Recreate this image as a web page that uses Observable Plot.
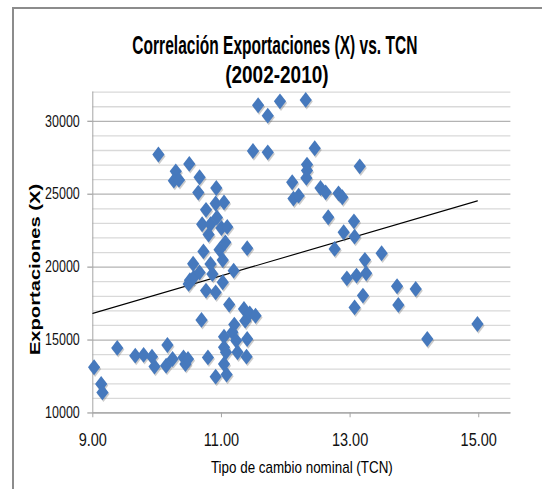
<!DOCTYPE html>
<html><head><meta charset="utf-8">
<script src="https://cdn.jsdelivr.net/npm/d3@7"></script>
<script src="https://cdn.jsdelivr.net/npm/@observablehq/plot@0.6"></script>
<style>
html,body{margin:0;padding:0;background:#fff;}
#wrap{position:relative;width:542px;height:489px;overflow:hidden;background:#fff;}
#border{position:absolute;left:12px;top:7px;width:700px;height:700px;border-left:2px solid #8c8c8c;border-top:2px solid #8c8c8c;}
#chart{position:absolute;left:0;top:0;}
</style></head><body>
<div id="wrap"><div id="border"></div><div id="chart"></div></div>
<script>
// ---- data ----
const titleLine1 = "Correlación Exportaciones (X) vs. TCN";
const titleLine2 = "(2002-2010)";
const xTitle = "Tipo de cambio nominal (TCN)";
const yTitle = "Exportaciones (X)";

const tcn = [
 9.02, 9.13, 9.15, 9.38, 9.66, 9.79, 9.92, 9.96, 10.16, 10.14,
 10.24, 10.41, 10.44, 10.48, 10.79, 10.91, 11.08, 11.04, 11.04, 11.07,
 11.04, 11.17, 11.23, 11.25, 11.40, 11.39, 11.20, 10.69, 11.37, 11.35,
 11.44, 11.53, 11.12, 10.49, 10.51, 10.57, 10.66, 10.56, 10.72, 10.83,
 10.86, 10.76, 10.91, 10.97, 11.02, 11.02, 11.19, 11.40, 11.06, 10.02,
 10.29, 10.26, 10.34, 10.50, 10.66, 10.64, 10.92, 10.91, 11.04, 10.76,
 10.70, 10.83, 10.93, 10.80, 11.00, 11.09, 11.49, 11.72, 11.57, 11.72,
 11.91, 12.31, 12.10, 12.12, 12.20, 12.33, 12.33, 12.32, 12.45, 13.15,
 12.54, 12.62, 12.82, 12.88, 12.66, 13.06, 12.90, 13.07, 12.76, 13.23,
 13.49, 12.95, 13.10, 13.25, 13.73, 14.02, 13.20, 13.07, 13.75, 14.98,
 14.20
];
const exportaciones = [
 13130, 11990, 11410, 14460, 13930, 13980, 13860, 13180, 14660, 13240,
 13700, 13810, 13360, 13700, 13810, 12490, 12630, 13360, 14500, 14160,
 15230, 15530, 14960, 14160, 15070, 13860, 16060, 16380, 16330, 17130,
 16830, 16670, 17430, 18850, 19100, 19300, 19640, 20230, 21080, 20220,
 19530, 18390, 18270, 21200, 20490, 18960, 19760, 21300, 21700, 27720,
 26570, 25930, 25980, 27080, 26160, 25110, 25430, 24360, 24440, 23930,
 22940, 22940, 23400, 22230, 22680, 22760, 27960, 27870, 31100, 30390,
 31370, 31470, 25820, 24700, 24900, 27030, 26620, 26120, 28150, 26910,
 25430, 25130, 25060, 24790, 23420, 23140, 22390, 22090, 21250, 20500,
 20950, 19230, 19420, 19580, 18690, 18500, 18050, 17240, 17410, 16100,
 15070
];
const trendX = [9.0, 14.98];
const trendY = [16830, 24540];

const xTicks = [9, 11, 13, 15];
const yTicks = [10000, 15000, 20000, 25000, 30000];
const yMinorGrid = [11000,12000,13000,14000,16000,17000,18000,19000,21000,22000,23000,24000,26000,27000,28000,29000,31000,32000];

// ---- build ----
const points = tcn.map((x, i) => ({x, y: exportaciones[i]}));
const trend = trendX.map((x, i) => ({x, y: trendY[i]}));

const S = 1.3;           // vertical stretch of the original picture
const W = 542, H = 489 / S;
const frameTop = 91.5 / S, frameBottom = 412.3 / S;

const chart = Plot.plot({
  width: W, height: H,
  marginLeft: 92.3, marginRight: 31.6, marginTop: frameTop, marginBottom: H - frameBottom,
  style: {background: "transparent", fontFamily: "'Liberation Sans', Arial, sans-serif", color: "#000", overflow: "visible"},
  x: {domain: [9, 15.5]},
  y: {domain: [10000, 32000]},
  marks: [
    Plot.gridY(yMinorGrid, {stroke: "#d9d9d9", strokeOpacity: 1}),
    Plot.gridY(yTicks, {stroke: "#b3b3b3", strokeOpacity: 1}),
    Plot.ruleX([9], {stroke: "#a6a6a6"}),
    Plot.ruleY([10000], {stroke: "#a6a6a6"}),
    Plot.axisY(yTicks, {tickSize: 5, tickPadding: 8, fontSize: 12.5, tickFormat: d => String(d), stroke: "#a6a6a6", fill: "#111", label: null}),
    Plot.axisX(xTicks, {tickSize: 5 / S, tickPadding: 10.9, fontSize: 14.5, tickFormat: d => d.toFixed(2), stroke: "#a6a6a6", fill: "#111", label: null}),
    Plot.line(trend, {x: "x", y: "y", stroke: "#000", strokeWidth: 0.9}),
    Plot.dot(points, {x: "x", y: "y", symbol: "diamond2", r: 5.5, fill: "#555", fillOpacity: 0.3, dx: 1, dy: 1.3}),
    Plot.dot(points, {x: "x", y: "y", symbol: "diamond2", r: 5.5, fill: "#4679bd"}),
    Plot.text([titleLine1], {text: d => d, frameAnchor: "top", dx: -27, dy: -35.8, lineAnchor: "middle", textAnchor: "middle", fontSize: 20, fontWeight: "bold", fill: "#000"}),
    Plot.text([titleLine2], {text: d => d, frameAnchor: "top", dx: -25, dy: -12.9, lineAnchor: "middle", textAnchor: "middle", fontSize: 19, fontWeight: "bold", fill: "#000"}),
    Plot.text([xTitle], {text: d => d, frameAnchor: "bottom", dy: 42, lineAnchor: "middle", textAnchor: "middle", fontSize: 13.4, fill: "#000"}),
    Plot.text([yTitle], {text: d => d, frameAnchor: "left", rotate: -90, dx: -57.3, dy: 13, lineAnchor: "middle", textAnchor: "middle", fontSize: 15.5, fontWeight: "bold", fill: "#000"})
  ]
});
// condense the title like the original's narrow face
for (const t of chart.querySelectorAll("text")) {
  if (t.textContent === titleLine1) {
    t.setAttribute("textLength", 285);
    t.setAttribute("lengthAdjust", "spacingAndGlyphs");
  }
}
chart.setAttribute("preserveAspectRatio", "none");
chart.setAttribute("height", 489);
chart.style.height = "489px";
chart.style.width = "542px";
chart.style.maxWidth = "none";
document.getElementById("chart").appendChild(chart);
</script></body></html>
